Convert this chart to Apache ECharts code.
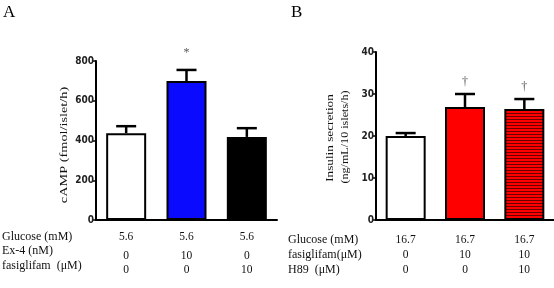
<!DOCTYPE html>
<html>
<head>
<meta charset="utf-8">
<script src="https://cdn.jsdelivr.net/npm/echarts@6/dist/echarts.min.js"></script>
<style>html,body{margin:0;padding:0;background:#fff;}#c{width:554px;height:288px;}</style>
</head>
<body>
<div id="c"></div>
<script>
// ---- Data ----
const glucoseA = ['5.6', '5.6', '5.6'];
const ex4A = ['0', '10', '0'];
const fasA = ['0', '0', '10'];
const campMean = [437, 699, 418];
const campErr = [35, 56, 44];
const sigA = ['', '*', ''];
const rowLabelsA = ['Glucose (mM)', 'Ex-4 (nM)', 'fasiglifam  (\u03bcM)'];
const yTitleA = 'cAMP (fmol/islet/h)';

const glucoseB = ['16.7', '16.7', '16.7'];
const fasB = ['0', '10', '10'];
const h89B = ['0', '0', '10'];
const insulinMean = [20.0, 26.9, 26.4];
const insulinErr = [0.7, 3.1, 2.4];
const sigB = ['', '\u2020', '\u2020'];
const rowLabelsB = ['Glucose (mM)', 'fasiglifam(\u03bcM)', 'H89  (\u03bcM)'];
const yTitleB = ['Insulin secretion', '(ng/mL/10 islets/h)'];

const yAxisA = {min: 0, max: 800, interval: 200};
const yAxisB = {min: 0, max: 40, interval: 10};

// ---- Styles ----
const pat = document.createElement('canvas');
pat.width = 6; pat.height = 3;
const pc = pat.getContext('2d');
pc.fillStyle = '#ff0000'; pc.fillRect(0, 0, 6, 3);
pc.fillStyle = '#6a0000'; pc.fillRect(0, 2, 6, 1);
const colorsA = ['#ffffff', '#0a0aff', '#000000'];
const colorsB = ['#ffffff', '#ff0000', {image: pat, repeat: 'repeat'}];

const serif = "'Liberation Serif','Times New Roman',serif";
const narrow = "'DejaVu Sans Condensed','Liberation Sans Narrow',sans-serif";

function errRender(sig, sigOffset) {
  return function (params, api) {
    const i = params.dataIndex;
    const x = api.value(0), m = api.value(1), e = api.value(2);
    const p0 = api.coord([x, m]);
    const p1 = api.coord([x, m + e]);
    const half = 10;
    const ls = {stroke: '#000', lineWidth: 2.5};
    const children = [
      {type: 'line', shape: {x1: p0[0], y1: p0[1], x2: p1[0], y2: p1[1]}, style: ls},
      {type: 'line', shape: {x1: p0[0] - half, y1: p1[1], x2: p0[0] + half, y2: p1[1]}, style: ls}
    ];
    if (sig[i]) {
      children.push({type: 'text', x: p1[0], y: p1[1] - sigOffset,
        style: {text: sig[i], font: '12px ' + serif, fill: '#555', align: 'center', verticalAlign: 'middle'}});
    }
    return {type: 'group', children: children};
  };
}

function yAx(gi, cfg) {
  return Object.assign({
    type: 'value', gridIndex: gi,
    splitLine: {show: false},
    axisLine: {show: true, lineStyle: {color: '#000', width: 2}},
    axisTick: {show: true, length: 3, lineStyle: {color: '#000', width: 1.5}},
    axisLabel: {fontFamily: narrow, fontWeight: 'bold', fontSize: 10, color: '#222', margin: 2}
  }, cfg);
}

function xAx(gi, rows, rich, margin) {
  return {
    type: 'category', gridIndex: gi, data: ['0', '1', '2'],
    axisLine: {lineStyle: {color: '#000', width: 2}},
    axisTick: {alignWithLabel: true, length: 3, lineStyle: {color: '#000', width: 1.5}},
    axisLabel: {
      margin: margin, interval: 0,
      formatter: function (v, idx) { return '{a|' + rows[0][idx] + '}\n{b|' + rows[1][idx] + '}\n{c|' + rows[2][idx] + '}'; },
      rich: rich
    }
  };
}

const lblStyle = {fontFamily: serif, fontSize: 11.5, color: '#111', align: 'center'};
const richA = {a: Object.assign({lineHeight: 22}, lblStyle), b: Object.assign({lineHeight: 16}, lblStyle), c: Object.assign({lineHeight: 12}, lblStyle)};
const richB = {a: Object.assign({lineHeight: 15}, lblStyle), b: Object.assign({lineHeight: 15}, lblStyle), c: Object.assign({lineHeight: 15}, lblStyle)};

function rowText(x, y, t) {
  return {type: 'text', x: x, y: y, style: {text: t, font: '12px ' + serif, fill: '#111', align: 'left', verticalAlign: 'middle'}};
}
function titleText(x, y, t, sx) {
  return {type: 'text', x: x, y: y, rotation: Math.PI / 2, scaleX: sx,
    style: {text: t, font: '11px ' + serif, fill: '#111', align: 'center', verticalAlign: 'middle'}};
}

const chart = echarts.init(document.getElementById('c'), null, {renderer: 'canvas'});
chart.setOption({
  animation: false,
  backgroundColor: '#fff',
  grid: [
    {left: 96, top: 61, width: 181, height: 159},
    {left: 376, top: 52, width: 178, height: 168}
  ],
  xAxis: [
    xAx(0, [glucoseA, ex4A, fasA], richA, 6),
    xAx(1, [glucoseB, fasB, h89B], richB, 12)
  ],
  yAxis: [yAx(0, yAxisA), yAx(1, yAxisB)],
  series: [
    {type: 'bar', xAxisIndex: 0, yAxisIndex: 0, barWidth: 40,
     data: campMean.map((v, i) => ({value: v, itemStyle: {color: colorsA[i]}})),
     itemStyle: {borderColor: '#000', borderWidth: 2}},
    {type: 'custom', xAxisIndex: 0, yAxisIndex: 0, z: 3,
     data: campMean.map((v, i) => [i, v, campErr[i]]),
     renderItem: errRender(sigA, 17)},
    {type: 'bar', xAxisIndex: 1, yAxisIndex: 1, barWidth: 40,
     data: insulinMean.map((v, i) => ({value: v, itemStyle: {color: colorsB[i]}})),
     itemStyle: {borderColor: '#000', borderWidth: 2}},
    {type: 'custom', xAxisIndex: 1, yAxisIndex: 1, z: 3,
     data: insulinMean.map((v, i) => [i, v, insulinErr[i]]),
     renderItem: errRender(sigB, 12)}
  ],
  graphic: [
    {type: 'text', left: 3, top: 4, style: {text: 'A', font: '17px ' + serif, fill: '#000'}},
    {type: 'text', left: 291, top: 4, style: {text: 'B', font: '17px ' + serif, fill: '#000'}},
    rowText(2, 237, rowLabelsA[0]),
    rowText(2, 251, rowLabelsA[1]),
    rowText(2, 266, rowLabelsA[2]),
    rowText(288, 240, rowLabelsB[0]),
    rowText(288, 255, rowLabelsB[1]),
    rowText(288, 270, rowLabelsB[2]),
    titleText(64, 145, yTitleA, 1.3),
    titleText(330, 138, yTitleB[0], 1.2),
    titleText(345, 137, yTitleB[1], 1.1)
  ]
});
</script>
</body>
</html>
